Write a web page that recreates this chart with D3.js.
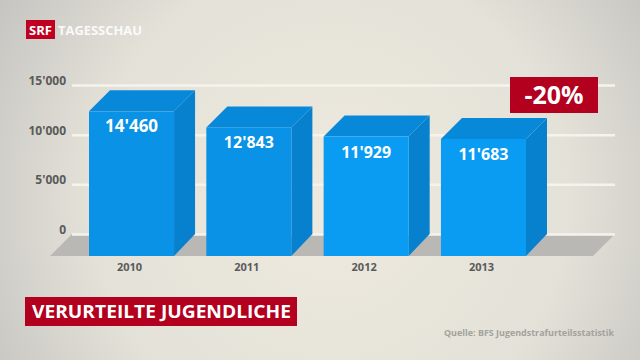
<!DOCTYPE html>
<html><head><meta charset="utf-8">
<script src="https://cdn.jsdelivr.net/npm/d3@7"></script>
<style>html,body{margin:0;padding:0;overflow:hidden;background:#e2dfd6}</style>
</head><body>
<svg id="c" width="640" height="360"></svg>
<script>
const years = ["2010", "2011", "2012", "2013"];
const values = [14460, 12843, 11929, 11683];
const yTicks = [0, 5000, 10000, 15000];
const title = "VERURTEILTE JUGENDLICHE";
const badge = "-20%";
const source = "Quelle: BFS Jugendstrafurteilsstatistik";
const brand = ["SRF", "TAGESSCHAU"];

const svg = d3.select("#c");
const W = 640, H = 360;
const defs = svg.append("defs");
const rg = defs.append("radialGradient").attr("id", "bg")
  .attr("gradientUnits", "userSpaceOnUse")
  .attr("cx", 330).attr("cy", 200).attr("r", 400);
rg.append("stop").attr("offset", "0").attr("stop-color", "#eeeadf");
rg.append("stop").attr("offset", "0.6").attr("stop-color", "#e4e1d8");
rg.append("stop").attr("offset", "1").attr("stop-color", "#c2c2bf");
svg.append("rect").attr("width", W).attr("height", H).attr("fill", "url(#bg)");

const fmt = d3.formatLocale({decimal: ".", thousands: "'", grouping: [3], currency: ["", ""]}).format(",d");
const font = "'Open Sans', 'DejaVu Sans', sans-serif";

const depth = 21;
const gx0 = 72, gx1 = 615;
const x = d3.scaleBand().domain(years).range([89, 526]).paddingInner(0.275).paddingOuter(0);
const y = d3.scaleLinear().domain([0, 15000]).range([234, 85]);

// floor
const y0 = y(0);
svg.append("path")
  .attr("d", d3.line()([[gx0 - 22, y0 + depth + 1], [gx0, y0], [gx1, y0], [gx1 - 22, y0 + depth + 1]]) + "Z")
  .attr("fill", "#b9b8b5");

// grid + axis
const axis = d3.axisLeft(y).tickValues(yTicks).tickFormat(fmt)
  .tickSize(-(gx1 - gx0)).tickPadding(6);
const ag = svg.append("g").attr("transform", `translate(${gx0},0)`).call(axis);
ag.select(".domain").remove();
ag.selectAll(".tick line").attr("stroke", "#f6f3ec").attr("stroke-width", 2.5);
ag.selectAll(".tick text").attr("fill", "#5a5a5a").attr("font-family", font)
  .attr("font-weight", "bold").attr("font-size", 12).attr("dy", "-0.05em");

// bars
const bw = x.bandwidth();
const bars = svg.append("g").selectAll("g").data(values).join("g");
bars.each(function(v, i) {
  const g = d3.select(this);
  const xl = x(years[i]);
  const yt = y(v) + depth;      // front top
  const yb = y0 + depth + 1;    // front bottom
  g.append("path").attr("d", d3.line()([[xl + bw, yt], [xl + bw + depth, yt - depth], [xl + bw + depth, y0], [xl + bw, yb]]) + "Z")
    .attr("fill", "#0780cd");
  g.append("path").attr("d", d3.line()([[xl, yt], [xl + depth, yt - depth], [xl + bw + depth, yt - depth], [xl + bw, yt]]) + "Z")
    .attr("fill", "#0888d9");
  g.append("rect").attr("x", xl).attr("y", yt).attr("width", bw).attr("height", yb - yt)
    .attr("fill", i < 2 ? "#0a92e6" : "#0a9cf2");
  g.append("text").attr("x", xl + bw / 2).attr("y", yt + 21).attr("text-anchor", "middle")
    .attr("fill", "#ffffff").attr("font-family", font).attr("font-weight", "bold")
    .attr("font-size", i < 1 ? 17 : 16).text(fmt(v));
});

// x labels
svg.append("g").selectAll("text").data(years).join("text")
  .attr("x", d => x(d) + bw / 2 - 2).attr("y", 271).attr("text-anchor", "middle")
  .attr("fill", "#5a5a5a").attr("font-family", font).attr("font-weight", "bold")
  .attr("font-size", 11).text(d => d);

// badge
svg.append("rect").attr("x", 510).attr("y", 77).attr("width", 88).attr("height", 36).attr("fill", "#b3001e");
svg.append("text").attr("x", 554).attr("y", 104).attr("text-anchor", "middle").attr("fill", "#fff")
  .attr("font-family", font).attr("font-weight", "bold").attr("font-size", 25).text(badge);

// title box
svg.append("rect").attr("x", 25).attr("y", 297).attr("width", 272).attr("height", 29).attr("fill", "#b3001e");
svg.append("text").attr("x", 32).attr("y", 318).attr("fill", "#fff")
  .attr("font-family", font).attr("font-weight", "bold").attr("font-size", 17)
  .attr("textLength", 259).attr("lengthAdjust", "spacingAndGlyphs").text(title);

// source
svg.append("text").attr("x", 444).attr("y", 336).attr("fill", "#a4a29c")
  .attr("font-family", font).attr("font-weight", "bold").attr("font-size", 9)
  .attr("textLength", 170).attr("lengthAdjust", "spacingAndGlyphs").text(source);

// brand
svg.append("rect").attr("x", 26).attr("y", 20).attr("width", 29).attr("height", 19).attr("fill", "#c0001f");
svg.append("text").attr("x", 40.5).attr("y", 35).attr("text-anchor", "middle").attr("fill", "#fff")
  .attr("font-family", font).attr("font-weight", "bold").attr("font-size", 13).text(brand[0]);
svg.append("text").attr("x", 58).attr("y", 35).attr("fill", "#fafafa")
  .attr("font-family", font).attr("font-weight", "bold").attr("font-size", 12)
  .attr("textLength", 84).attr("lengthAdjust", "spacingAndGlyphs").text(brand[1]);
</script>
</body></html>
